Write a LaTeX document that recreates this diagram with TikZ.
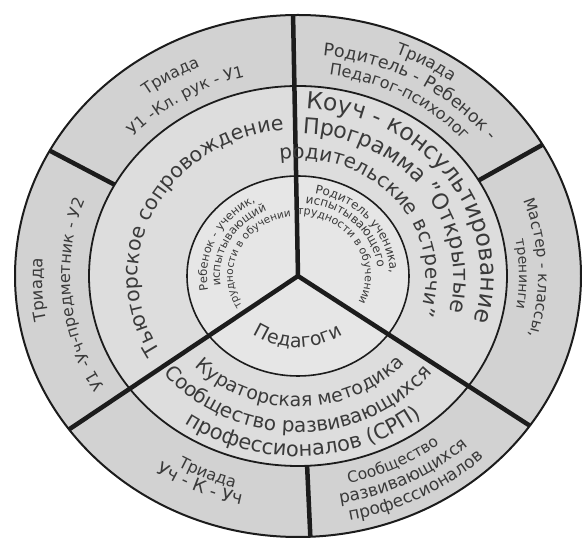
\documentclass[tikz,border=0pt]{standalone}
\usepackage{fontspec}
\setmainfont{DejaVu Sans}
\usetikzlibrary{decorations.text}
\definecolor{ringA}{HTML}{D2D2D2}
\definecolor{ringB}{HTML}{DDDDDD}
\definecolor{ringC}{HTML}{E6E6E6}
\definecolor{txt}{HTML}{3A3A3A}
\definecolor{ln}{HTML}{1C1C1C}
\newcommand{\fs}[1]{\fontsize{#1}{#1}\selectfont\color{txt}}
% #1 baseline x-radius, #2 centre angle, #3 direction (1 ccw, -1 cw), #4 font size, #5 text
\newcommand{\arctxt}[5]{%
  \pgfmathsetmacro{\rxx}{#1}%
  \pgfmathsetmacro{\ryy}{0.915*#1}%
  \pgfmathsetmacro{\sa}{#2-#3*85}%
  \pgfmathsetmacro{\ea}{#2+#3*85}%
  \pgfmathsetmacro{\dx}{\rxx*cos(\sa)}%
  \pgfmathsetmacro{\dy}{\ryy*sin(\sa)}%
  \path[decorate,decoration={text along path,text align=center,text={|\fs{#4}|#5}}]
    (C) ++(\dx,\dy) arc[start angle=\sa, end angle=\ea, x radius=\rxx pt, y radius=\ryy pt];}
\tikzset{
  ring/.style={draw=ln, line width=1.8pt},
  spoke/.style={draw=ln, line width=4.5pt, line join=round},
}
\begin{document}
\begin{tikzpicture}[x=1pt,y=1pt]
\useasboundingbox (0,0) rectangle (582,538);
\fill[white] (0,0) rectangle (582,538);
\coordinate (C) at (298,262);
% rings
\fill[ringA] (C) ellipse [x radius=283pt, y radius=261pt];
\fill[ringB] (C) ellipse [x radius=209pt, y radius=190pt];
\fill[ringC] (C) ellipse [x radius=111pt, y radius=100pt];
\draw[ring, line width=2pt] (C) ellipse [x radius=283pt, y radius=261pt];
\draw[ring] (C) ellipse [x radius=209pt, y radius=190pt];
\draw[ring, line width=1.6pt] (C) ellipse [x radius=111pt, y radius=100pt];
% key points
\path (C) ++(91:283pt and 261pt) coordinate (T);
\path (C) ++(216:283pt and 261pt) coordinate (LL);
\path (C) ++(325:283pt and 261pt) coordinate (LR);
\path (C) ++(151.3:209pt and 190pt) coordinate (ULi);
\path (C) ++(151.3:283pt and 261pt) coordinate (ULo);
\path (C) ++(30.2:209pt and 190pt) coordinate (URi);
\path (C) ++(30.2:283pt and 261pt) coordinate (URo);
\path (C) ++(272.5:209pt and 190pt) coordinate (Bi);
\path (C) ++(272.5:283pt and 261pt) coordinate (Bo);
% spokes and dividers
\draw[spoke] (T) -- (C) -- (LL) (C) -- (LR);
\draw[spoke] (ULi) -- (ULo);
\draw[spoke] (URi) -- (URo);
\draw[spoke] (Bi) -- (Bo);
% middle ring texts
\arctxt{160}{153.5}{-1}{20.5}{Тьюторское сопровождение}
\arctxt{183}{35}{-1}{23.5}{Коуч - консультирование}
\arctxt{156}{36}{-1}{22}{Программа "Открытые}
\arctxt{128}{39}{-1}{20}{родительские встречи"}
\arctxt{143}{271}{1}{19}{Кураторская методика}
\arctxt{171}{270}{1}{20}{Сообщество развивающихся}
\arctxt{197}{272}{1}{21}{профессионалов (СРП)}
% inner texts
\arctxt{91}{155}{-1}{11.5}{Ребенок - ученик,}
\arctxt{78}{152}{-1}{11.5}{испытывающий}
\arctxt{65}{154}{-1}{10.5}{трудности в обучении}
\arctxt{92}{39}{-1}{12}{Родитель ученика,}
\arctxt{80}{44}{-1}{12}{испытывающего}
\arctxt{67}{32}{-1}{11}{трудности в обучении}
\arctxt{78}{270}{1}{19}{Педагоги}
% outer texts
\arctxt{249}{122.5}{-1}{16}{Триада}
\arctxt{224}{122.5}{-1}{16}{У1 -Кл. рук - У1}
\arctxt{256}{183}{-1}{16.5}{Триада}
\arctxt{228}{185}{-1}{16}{У1 -Уч-предметник - У2}
\arctxt{262}{59}{-1}{16.5}{Триада}
\arctxt{242}{59}{-1}{17.5}{Родитель - Ребенок -}
\arctxt{222}{60}{-1}{16}{Педагог-психолог}
\arctxt{240}{2}{-1}{15.5}{Мастер - классы,}
\arctxt{221}{0.5}{-1}{14}{тренинги}
\arctxt{240}{245.5}{1}{16}{Триада}
\arctxt{257}{245}{1}{18}{Уч - К - Уч}
\arctxt{232}{297}{1}{15.5}{Сообщество}
\arctxt{252}{298}{1}{17}{развивающихся}
\arctxt{272}{299}{1}{17}{профессионалов}
\end{tikzpicture}
\end{document}
